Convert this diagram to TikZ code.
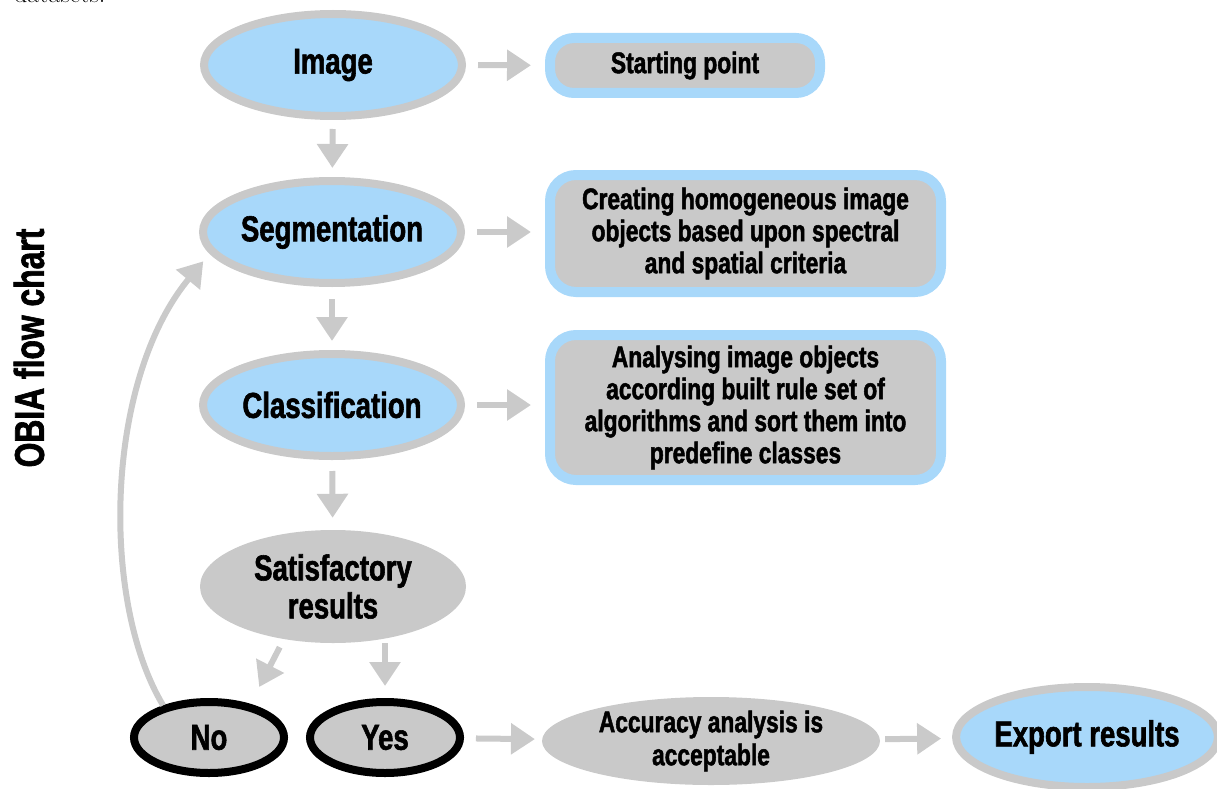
\documentclass[tikz,border=0pt]{standalone}
\usepackage{fontspec}
\newfontfamily\impact{Liberation Sans}[FakeStretch=0.765, BoldFeatures={FakeBold=1.6}]
\usetikzlibrary{shapes.geometric,arrows.meta}
\definecolor{lblue}{HTML}{A8D8FA}
\definecolor{lgray}{HTML}{C9C9C9}
\definecolor{agray}{HTML}{CACACA}
\tikzset{
 base/.style={font=\impact\bfseries\fontsize{36}{38}\selectfont, align=center, inner sep=0pt, text=black},
 blueell/.style={base, ellipse, fill=lblue, draw=lgray, line width=8pt, minimum width=258pt, minimum height=102pt},
 grayell/.style={base, ellipse, fill=lgray, minimum width=266pt, minimum height=113pt},
 blackell/.style={base, ellipse, fill=lgray, draw=black, line width=8pt, minimum width=150pt, minimum height=71pt},
 descbox/.style={base, font=\impact\bfseries\fontsize{29.8}{32}\selectfont, rectangle, rounded corners=26pt, fill=lgray, draw=lblue, line width=10pt, minimum width=391pt},
 arr/.style={draw=agray, line width=6pt, -{Triangle[length=24pt,width=30pt]}},
}
\begin{document}
\begin{tikzpicture}[x=1pt,y=-1pt]
\useasboundingbox (0,0) rectangle (1217,789);
\begin{scope}
\clip (0,0) rectangle (1217,789);
\node[font=\fontsize{26}{30}\selectfont, anchor=base west, inner sep=0pt] (ds) at (14,3) {datasets.};
\end{scope}

\node[base, font=\impact\bfseries\fontsize{41.6}{44}\selectfont, rotate=90] (title) at (29,348) {OBIA flow chart};

\node[blueell] (img) at (333,65) {Image};
\node[blueell] (seg) at (332,232) {Segmentation};
\node[blueell] (cls) at (332,405) {Classification};
\node[grayell] (sat) at (333,586.5) {Satisfactory\\results};
\node[blackell] (no) at (209,737.5) {No};
\node[blackell] (yes) at (385,737.5) {Yes};
\node[grayell, font=\impact\bfseries\fontsize{29.8}{33}\selectfont, minimum width=338pt, minimum height=88pt] (acc) at (711,741) {Accuracy analysis is\\acceptable};
\node[blueell, minimum width=256pt, minimum height=100pt] (exp) at (1087,737) {Export results};

\node[descbox, minimum width=270pt, minimum height=55pt, rounded corners=24pt] (start) at (685,65.5) {Starting point};
\node[descbox, minimum height=117pt] (segd) at (745.5,233.5) {Creating homogeneous image\\objects based upon spectral\\and spatial criteria};
\node[descbox, minimum height=145pt] (clsd) at (745.5,407.5) {Analysing image objects\\according built rule set of\\algorithms and sort them into\\predefine classes};

\draw[arr, shorten <=12pt, shorten >=14pt] (img) -- (start);
\draw[arr, shorten <=12pt, shorten >=14pt] (seg.east) -- (segd.west |- seg.east);
\draw[arr, shorten <=12pt, shorten >=14pt] (cls.east) -- (clsd.west |- cls.east);
\draw[arr, shorten <=9pt, shorten >=9pt] (img) -- (seg);
\draw[arr, shorten <=12pt, shorten >=9pt] (seg) -- (cls);
\draw[arr, shorten <=11pt, shorten >=12pt] (cls) -- (sat);
\draw[arr, shorten <=9pt, shorten >=19pt] (sat.227.5) -- (no.39);
\draw[arr, shorten >=12pt] (yes.north |- sat.south) -- (yes.north);
\draw[arr, shorten <=12pt, shorten >=7pt] (yes) -- (acc);
\draw[arr, shorten <=5pt, shorten >=11pt] (acc) -- (exp);
\draw[arr, shorten >=10pt] (no.145) .. controls (100,600) and (105,380) .. (seg.190);
\end{tikzpicture}
\end{document}
